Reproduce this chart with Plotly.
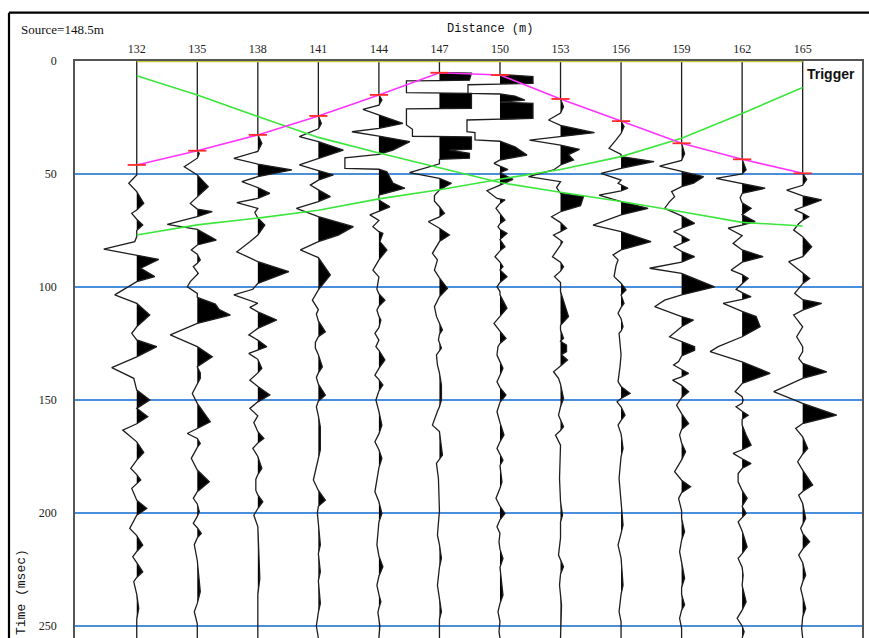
import plotly.graph_objects as go

# ---------------- data ----------------
offsets = [132, 135, 138, 141, 144, 147, 150, 153, 156, 159, 162, 165]
tick_labels = [str(v) for v in offsets]
time_ticks = [0, 50, 100, 150, 200, 250]

picks = [46.0, 39.7, 32.7, 24.3, 15.0, 5.2, 6.2, 16.8, 26.6, 36.4, 43.5, 49.7]
green_a = [6.5, 15.0, 24.6, 33.8, 40.7, 47.4, 53.8, 58.1, 62.2, 66.7, 71.4, 73.0]
green_b = [77.0, 72.5, 69.5, 66.0, 61.0, 57.0, 52.3, 48.0, 42.3, 34.2, 23.2, 11.7]

# (time ms, amplitude) samples
trace_132 = [(0,0),(46.0,0),(50.4,0),(54.1,-8),(57.8,0),(63.0,7),(65.9,0),(67.4,-5),(70,0),(72.6,6),(75,0),(77.7,0),(79.9,-2),(83.2,-33),(85.8,0),(87.8,22),(91.7,4),(95.4,18),(97.6,0),(103.5,-22),(107.2,0),(112.4,13),(117.6,0),(120.5,-5),(123.4,0),(126.4,20),(130.9,0),(135.7,-25),(140.4,-3),(145.6,0),(150.0,13),(153.7,0),(157.4,11),(160.5,0),(163.3,-14),(168.5,0),(173.2,7),(176.6,0),(180.3,-6),(183,0),(185.4,4),(187,0),(189.1,-5),(194.3,0),(198.0,10),(201,0),(206.8,-7),(210,0),(214.2,6),(217,0),(219.4,-4),(222,0),(226.0,6),(228.5,0),(230.4,-3),(236,0),(242.2,2),(247,0),(255.3,0)]
trace_135 = [(0,0),(39.7,0),(41,2),(43,0),(46.8,-13),(50.4,0),(55.6,11),(60.0,0),(63.0,-7),(65.5,0),(66.7,15),(68.9,0),(72.3,-30),(74.5,0),(79.2,19),(81.4,0),(83.6,-6),(85.5,0),(88,3),(89.5,0),(91,-4),(94,1),(97.6,-7),(99.9,-10),(102.8,0),(104.6,0),(107.5,18),(110,22),(112.4,33),(116.1,0),(121.2,-27),(126.4,0),(130.9,15),(135.3,0),(138,3),(140.4,3),(143,0),(147.1,-5),(151.5,0),(159.6,13),(162.6,0),(164.8,-10),(167,0),(169.2,3),(171,0),(175.8,-6),(181,0),(186.2,12),(190.6,0),(193.5,-4),(196,0),(199.4,2),(201.5,0),(204.6,-4),(206.5,0),(209.0,4),(211,0),(214,-3),(221,0),(234.8,3),(240,0),(243.7,-3),(249,0),(255.3,0)]
trace_138 = [(0,0),(32.7,0),(36.4,4),(40,0),(43.1,-24),(45.6,0),(48.2,34),(51.2,0),(53.4,-16),(56,0),(58.6,12),(60.8,0),(62.7,-21),(65.2,0),(67,-3),(69.5,0),(72.6,7),(77,0),(80,-8),(84.4,-21),(88.8,0),(93.2,31),(98.4,0),(101,-5),(103.5,-24),(107.2,0),(109,-8),(111,0),(114.6,19),(118.3,0),(121.2,-9),(123.5,0),(126.4,9),(128,0),(129.4,-9),(132,0),(136,4),(138,0),(141.2,-8),(144,0),(147.8,12),(150.8,0),(153.7,-8),(157,0),(160,-4),(164,0),(167.0,6),(169,0),(171.4,-5),(175,0),(180.3,4),(183,0),(185,-2),(190,-2),(192,0),(195.0,5),(198,0),(201,-4),(206,0),(229,2),(236,0),(255.3,0)]
trace_141 = [(0,0),(24.3,0),(27.6,3),(30,0),(33.5,-19),(35.7,0),(39.4,25),(43.1,0),(46.0,-19),(48.5,0),(50.4,15),(52.7,0),(54.9,-8),(57,0),(60.0,12),(62.2,0),(65.2,-22),(68.9,0),(73.3,35),(77,20),(79.9,0),(83.6,-18),(87,0),(94.7,12),(101.3,0),(105.8,-6),(110,0),(112,-2),(115,0),(119.8,7),(122,0),(124.5,-3),(127,-3),(130,0),(135.3,4),(138,0),(140,-2),(143,0),(147.8,7),(150.5,0),(153,-2),(157,0),(162,2),(172,2),(176,0),(185.4,-5),(190,0),(194.3,7),(197,0),(200,-1),(214,2),(218,0),(226,2),(230,0),(240,2),(244,0),(250,-2),(255.3,0)]
trace_144 = [(0,0),(15.0,0),(17.3,3),(19.5,0),(21.4,-16),(23.9,0),(27.6,24),(29.8,0),(31.3,-27),(33.2,0),(35.7,31),(39.4,14),(41.3,0),(42.8,-34),(47.5,-34),(47.9,0),(49.0,8),(54,14),(56.3,26),(59.3,0),(61.5,0),(64.5,11),(66.6,0),(68.1,-9),(70.5,0),(73.3,-6),(75.5,0),(76.3,4),(79.9,1),(83.6,8),(88,0),(92.5,-6),(95.5,0),(101,-2),(103,0),(105.8,6),(108.5,0),(110.2,-2),(113,0),(114.6,2),(118,0),(120.5,-4),(123.5,0),(126.4,-3),(128,0),(132.3,6),(136,0),(139,-4),(141,0),(143.4,4),(146,0),(150,-3),(155,0),(161.1,3),(165,0),(168.5,-4),(172,0),(175.8,3),(180,0),(190.6,-4),(195,0),(200.2,3),(204,0),(214,-2),(219,0),(223.8,4),(228,0),(232,-2),(236,0),(239.3,2),(242,0),(244,-1),(250,1),(255.3,0)]
trace_147 = [(0,0),(5.0,0),(5.4,32),(8.5,30),(8.7,0),(8.8,-33),(14.0,-33),(14.2,0),(14.3,32),(20.9,32),(21.0,0),(21.2,-33),(28.3,-33),(30.2,-27),(33.3,-27),(33.5,0),(33.6,32),(39.0,32),(39.4,10),(40.8,30),(43.0,30),(43.5,0),(45.5,0),(49.4,-30),(51.9,0),(54.1,12),(57.1,0),(59.5,-5),(62,-5),(64.5,0),(67.4,5),(69,0),(71.1,-11),(74,0),(77.0,10),(79.9,0),(82.2,-3),(85.1,-7),(88,-2),(92.5,-5),(96,0),(100.6,8),(104.3,0),(108.7,-5),(113,-3),(116,0),(119,3),(121,0),(123.4,-1),(127,2),(130,-3),(134.5,-2),(138,0),(143.4,2),(150,2),(153,0),(155,-2),(161.1,-7),(164,0),(174.4,3),(176,0),(178,-3),(184.7,-1),(199,0),(209.8,-2),(214,0),(220,2),(224,0),(232,-2),(237,0),(243.7,2),(247,0),(251,0),(255.3,0)]
trace_150 = [(0,0),(5.9,0),(6.9,33),(9.9,33),(10.2,0),(10.5,-32),(14.3,-32),(14.6,0),(15.5,15),(17.3,25),(18.2,0),(18.7,33),(25.4,33),(25.8,0),(26.1,-33),(31.3,-33),(31.7,-25),(34.9,-25),(35.5,0),(38,15),(41.6,27),(43.8,0),(45.3,-6),(46.5,0),(48.0,8),(49.4,0),(52.4,13),(54.9,0),(57.4,-13),(60.8,-3),(61.5,5),(63,0),(65.2,-4),(67.5,0),(70.4,5),(72,0),(73.3,-2),(74.5,0),(76.3,7),(79,0),(82.2,5),(84,0),(86.6,-5),(89,0),(91,3),(92.5,0),(95.4,7),(98,0),(99.9,-3),(102,0),(103.5,0),(109.4,7),(113,0),(116.1,-6),(119.5,0),(122.7,6),(125,0),(126.4,-2),(130.1,-3),(133,0),(136,3),(139,0),(141.9,-3),(144.5,0),(147.8,6),(151,0),(155.2,-3),(160,0),(165.5,4),(168.5,0),(171.4,-3),(174,0),(176.6,3),(179,0),(186.2,2),(189,0),(193.5,-4),(197,0),(200.2,5),(203,0),(206.1,-3),(209,0),(212.7,-1),(216,0),(220.1,3),(224,0),(236.3,3),(240,0),(243.7,-2),(248,0),(252.5,-1),(255.3,0)]
trace_153 = [(0,0),(16.8,0),(20.2,3),(23,0),(26.1,-12),(28.5,0),(31.7,34),(33.5,0),(35.0,-31),(37.2,0),(39.1,19),(41.5,8),(43.8,13),(46.0,0),(48.2,-7),(51.2,-32),(53.4,0),(56,-4),(58.6,0),(60.0,23),(64,20),(66.7,0),(68.9,-9),(71.5,0),(74.0,6),(75.5,0),(77,-7),(80,2),(81.5,0),(86.6,-8),(89,0),(91,3),(93,0),(95.4,-6),(98,0),(102,0),(113.1,8),(117,0),(119,0),(122.7,3),(124,0),(125.7,6),(128.6,6),(130,1),(132.3,7),(135,0),(137.5,-7),(140.4,-2),(143,0),(149.3,3),(153,0),(156.7,-2),(159,0),(161.8,3),(163.5,0),(165.5,-5),(170,0),(184.7,-1),(195,0),(201,2),(204,0),(211,0),(218.6,-2),(221,0),(223.8,3),(227,0),(231.9,-1),(240.7,1),(251,0),(255.3,0)]
trace_156 = [(0,0),(26.6,0),(29,3),(32,0),(34.9,-5),(38.6,-12),(41.3,0),(42.3,0),(44.5,33),(47.5,0),(49.7,-20),(52.7,0),(54.1,-3),(56.3,7),(57.5,0),(59.3,-22),(62.2,0),(65.2,27),(68.1,0),(72.6,-28),(75.5,0),(79.9,30),(83.6,0),(85.8,-8),(88,-3),(90.5,-5),(95.4,-7),(98.3,0),(101.3,5),(103.5,0),(107.2,3),(109,0),(111.6,-3),(114,0),(117.6,2),(119.5,0),(120.5,-2),(126.4,-1),(130,0),(135,-1),(141.9,-3),(144,0),(147.1,9),(149.3,0),(150.8,-4),(153,0),(156.7,4),(159,0),(161.1,-3),(165,0),(171.4,2),(175,0),(184.7,-2),(195,0),(205.3,2),(209,0),(214.2,-3),(220,0),(231.9,2),(236,0),(243.7,-2),(248,0),(255.3,0)]
trace_159 = [(0,0),(36.4,0),(41,3),(44,0),(46.5,-22),(49.0,0),(51.2,22),(54,12),(55.6,0),(57.8,-10),(60,-7),(62.2,-12),(65.2,-17),(68.5,0),(71.8,13),(74.0,0),(75.5,-8),(77.3,0),(79.2,8),(80.7,0),(82.2,-8),(84.2,0),(86.6,13),(89,0),(91.7,-32),(94,0),(99.9,33),(103.5,0),(105.8,-17),(108.7,-27),(113.1,0),(114.6,12),(117.6,0),(122,-12),(124,0),(126.4,13),(128,13),(130.5,0),(133,-3),(134.5,-8),(136.5,0),(138.2,7),(139.8,0),(141.2,-9),(143.5,0),(146.3,7),(149,0),(152.3,-5),(156,0),(160.4,7),(163,0),(165.5,-2),(169,0),(172.9,4),(176.5,0),(181.7,-7),(185.5,0),(188.4,9),(191,0),(193.5,-3),(199,0),(202.4,0),(208.3,3),(212,0),(217.1,-2),(222,0),(228.9,3),(233,0),(236,0),(240.7,3),(243,0),(246.6,-2),(251,0),(255.3,0)]
trace_162 = [(0,0),(43.5,0),(48.2,4),(50,0),(51.9,-26),(54.2,0),(56.3,23),(58.6,0),(60.5,-2),(62.8,0),(65.2,9),(68,0),(71.1,13),(72.6,0),(74.0,-14),(77.3,0),(80.7,-9),(83.6,0),(86.6,21),(89,0),(92.5,-11),(94.5,0),(96.2,6),(98.6,0),(101,-6),(102.5,0),(104.3,9),(105.5,0),(107.2,-19),(110.8,0),(113.1,14),(117.6,18),(122,0),(126.4,-24),(128.6,-32),(133.1,0),(138.2,28),(142.7,0),(146.3,-7),(148.5,0),(150,1),(151.5,0),(153,-6),(155,0),(156.7,6),(158.5,0),(161.1,0),(165.5,4),(170,9),(172,0),(173.6,-9),(176,0),(178.1,9),(180.3,0),(182.5,-4),(186.2,-4),(190,0),(193.5,5),(197,0),(200.2,4),(202,0),(203.9,-4),(208,0),(215.0,5),(218,0),(220.1,-4),(224,0),(227.5,1),(232,0),(239.3,4),(243,0),(246.6,-5),(250,0),(252.5,2),(255.3,0)]
trace_165 = [(0,0),(49.7,0),(52.4,4),(55,0),(57.1,-16),(59.7,0),(61.5,19),(64.5,0),(65.9,-8),(67.4,0),(68.9,6),(70.5,0),(72,-4),(74.8,-9),(77.7,0),(82.2,9),(86.6,0),(88.8,-14),(91.7,-6),(93.5,0),(96.2,7),(98.5,0),(100.6,-4),(102.8,-8),(105.6,0),(107.2,19),(110.2,0),(112.4,-9),(117.6,0),(122,-6),(126.4,0),(128.6,0),(131.6,-4),(133.8,0),(137.5,24),(140.4,0),(146.3,-29),(151.5,0),(156.7,34),(160.4,0),(162.6,-7),(166.3,0),(171.4,5),(174,0),(177.3,-5),(181,0),(187.6,10),(190.5,0),(192.1,-4),(195.8,0),(202.4,3),(205,0),(206.8,-2),(209,0),(212.7,7),(216,0),(218.6,-4),(222,0),(227.5,3),(230.5,0),(233.4,-2),(237,0),(242.2,3),(246,0),(251.1,-1),(255.3,0)]

traces = [trace_132, trace_135, trace_138, trace_141, trace_144, trace_147,
          trace_150, trace_153, trace_156, trace_159, trace_162, trace_165]

# ---------------- style ----------------
GAIN = 1 / 20.18          # amplitude units -> metres on the distance axis
X_RANGE = [128.94, 167.94]
Y_RANGE = [255.3, 0]
W, H = 869, 638
ML, MR, MT, MB = 75, 7, 61, 0
PW, PH = W - ML - MR, H - MT - MB


def px_to_paper_x(px):
    return (px - ML) / PW


def px_to_paper_y(py):
    return (H - MB - py) / PH


def positive_polygon(samples):
    """Polygon of the positive lobes (variable-area fill)."""
    pts = []
    for i, (t, a) in enumerate(samples):
        if i > 0:
            t0, a0 = samples[i - 1]
            if a0 * a < 0:
                tc = t0 + (t - t0) * a0 / (a0 - a)
                pts.append((tc, 0.0))
        pts.append((t, max(a, 0.0)))
    return pts


fig = go.Figure()

for off, samples in zip(offsets, traces):
    poly = positive_polygon(samples)
    xs = [off + a * GAIN for _, a in poly] + [off, off]
    ys = [t for t, _ in poly] + [poly[-1][0], poly[0][0]]
    fig.add_trace(go.Scatter(x=xs, y=ys, mode="lines", fill="toself",
                             fillcolor="black", line=dict(width=0),
                             hoverinfo="skip", showlegend=False))
    fig.add_trace(go.Scatter(x=[off + a * GAIN for _, a in samples],
                             y=[t for t, _ in samples], mode="lines",
                             line=dict(color="#1e1e1e", width=1.3),
                             hoverinfo="skip", showlegend=False))

# travel-time lines
fig.add_trace(go.Scatter(x=offsets, y=green_a, mode="lines",
                         line=dict(color="#3CE63C", width=1.6), showlegend=False))
fig.add_trace(go.Scatter(x=offsets, y=green_b, mode="lines",
                         line=dict(color="#3CE63C", width=1.6), showlegend=False))
fig.add_trace(go.Scatter(x=offsets, y=picks, mode="lines",
                         line=dict(color="#FF33FF", width=1.6), showlegend=False))
fig.add_trace(go.Scatter(x=offsets, y=picks, mode="markers",
                         marker=dict(symbol="line-ew", size=13,
                                     line=dict(color="#FF2A2A", width=1.8)),
                         showlegend=False))
# trigger (time zero) line
fig.add_trace(go.Scatter(x=[offsets[0], offsets[-1]], y=[0, 0], mode="lines",
                         line=dict(color="#C8C83A", width=2.5),
                         cliponaxis=False, showlegend=False))

fig.update_xaxes(range=X_RANGE, side="top", tickvals=offsets, ticktext=tick_labels,
                 ticks="", ticklabelstandoff=1, automargin=False,
                 tickfont=dict(family="Liberation Serif", size=12, color="#222"),
                 showgrid=False, zeroline=False, showline=True, mirror=True,
                 linecolor="#555", linewidth=1.5, layer="below traces")
fig.update_yaxes(range=Y_RANGE, tickvals=time_ticks,
                 ticktext=[str(v) for v in time_ticks], ticks="",
                 ticklabelstandoff=14, automargin=False,
                 tickfont=dict(family="Liberation Serif", size=12, color="#222"),
                 showgrid=True, gridcolor="#4A8FDB", gridwidth=1.5,
                 zeroline=False, showline=True, mirror=True,
                 linecolor="#555", linewidth=1.5, layer="below traces")

fig.add_annotation(text="Distance (m)", xref="paper", yref="paper",
                   x=px_to_paper_x(489.5), y=px_to_paper_y(29),
                   xanchor="center", yanchor="middle", showarrow=False,
                   font=dict(family="Liberation Mono", size=12, color="#111"))
fig.add_annotation(text="Source=148.5m", xref="paper", yref="paper",
                   x=px_to_paper_x(19), y=px_to_paper_y(29),
                   xanchor="left", yanchor="middle", showarrow=False,
                   font=dict(family="Liberation Serif", size=13, color="#111"))
fig.add_annotation(text="Time (msec)", xref="paper", yref="paper",
                   x=px_to_paper_x(21), y=px_to_paper_y(592), textangle=-90,
                   xanchor="center", yanchor="middle", showarrow=False,
                   font=dict(family="Liberation Mono", size=13, color="#111"))
fig.add_annotation(text="<b>Trigger</b>", xref="x", yref="y",
                   x=offsets[-1], y=0, xanchor="left", yanchor="top",
                   xshift=2, yshift=-3, showarrow=False,
                   font=dict(family="Liberation Sans", size=14, color="#111"))

# outer frame (top and left edges visible in the picture)
fig.add_shape(type="line", xref="paper", yref="paper",
              x0=px_to_paper_x(9), x1=px_to_paper_x(W + 5),
              y0=px_to_paper_y(12.7), y1=px_to_paper_y(12.7),
              line=dict(color="black", width=2.2))
fig.add_shape(type="line", xref="paper", yref="paper",
              x0=px_to_paper_x(9), x1=px_to_paper_x(9),
              y0=px_to_paper_y(12.7), y1=px_to_paper_y(H + 5),
              line=dict(color="black", width=2.2))

fig.update_layout(width=W, height=H, autosize=False,
                  margin=dict(l=ML, r=MR, t=MT, b=MB, pad=0),
                  plot_bgcolor="white", paper_bgcolor="white",
                  showlegend=False)

fig.write_html("out.html", config={"displayModeBar": False},
               post_script="document.body.style.margin='0px';"
                           "document.body.style.overflow='hidden';")
